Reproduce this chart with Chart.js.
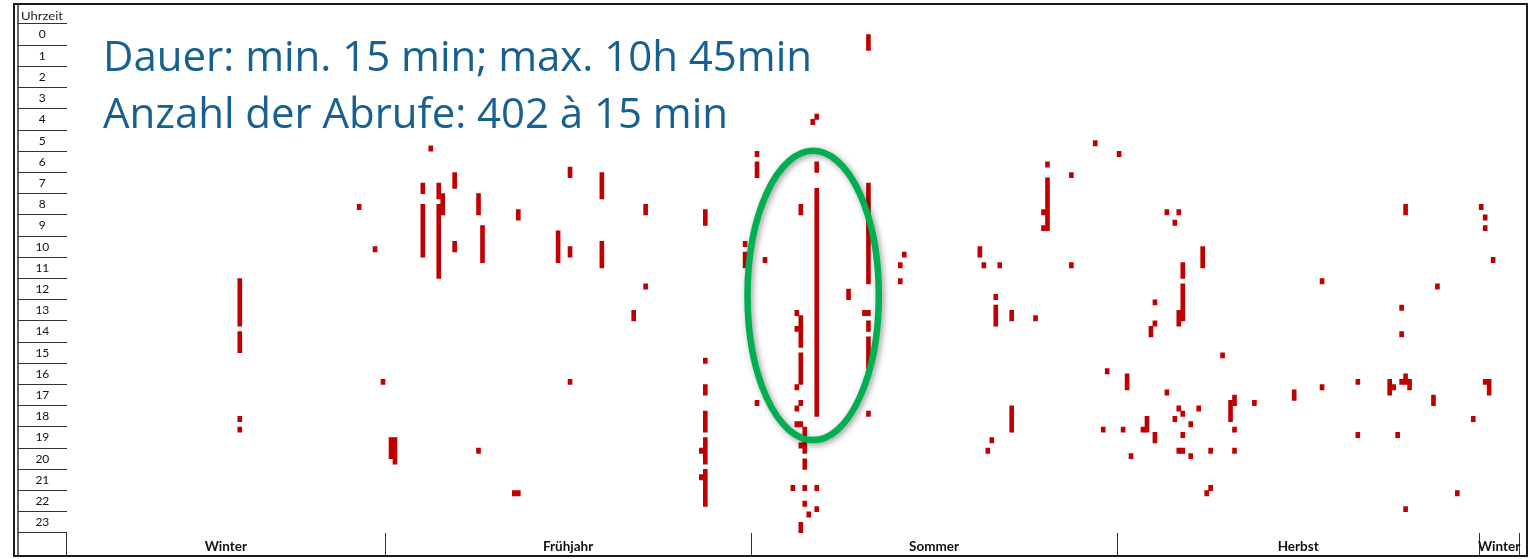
<!DOCTYPE html>
<html>
<head>
<meta charset="utf-8">
<script src="https://cdn.jsdelivr.net/npm/chart.js@4.4.1/dist/chart.umd.min.js"></script>
<style>
html,body{margin:0;padding:0;background:#ffffff;}
#wrap{position:relative;width:1537px;height:559px;overflow:hidden;}
#c{position:absolute;left:0;top:0;}
#ov{position:absolute;left:0;top:0;pointer-events:none;}
</style>
</head>
<body>
<div id="wrap">
<canvas id="c" width="1537" height="559"></canvas>
<svg id="ov" width="1537" height="559" xmlns="http://www.w3.org/2000/svg">
  <text x="42" y="20" text-anchor="middle" font-family="Lato" font-size="11.5" fill="#222" textLength="42" lengthAdjust="spacingAndGlyphs">Uhrzeit</text>
  <text x="103" y="71" font-family="Open Sans" font-size="42" fill="#17608f" textLength="709" lengthAdjust="spacing">Dauer: min. 15 min; max. 10h 45min</text>
  <text x="103" y="128" font-family="Open Sans" font-size="42" fill="#17608f" textLength="625" lengthAdjust="spacing">Anzahl der Abrufe: 402 à 15 min</text>
</svg>
</div>
<script>
// ---- categories / tick labels ----
const dayLabels = Array.from({length: 365}, (_, i) => String(i + 1));
const hourLabels = ['0','1','2','3','4','5','6','7','8','9','10','11','12','13','14','15','16','17','18','19','20','21','22','23'];
const seasonNames = ['Winter', 'Frühjahr', 'Sommer', 'Herbst', 'Winter'];
const seasonBounds = [0, 80, 172, 264, 355, 365];

// ---- events: [day index, from hour, to hour] ----
const winterEvents = [
  [43,12,14.25],[43,14.5,15.5],[43,18.5,18.75],[43,19,19.25],
  [73,8.5,8.75],[77,10.5,10.75],[79,16.75,17],[81,19.5,20.5],[82,19.5,20.75]
];
const springEvents = [
  [89,7.5,8],[89,8.5,11],[91,5.75,6],[93,7.5,8.25],[93,8.5,12],[94,8,9],
  [97,7,7.75],[97,10.25,10.75],[103,8,9],[103,20,20.25],[104,9.5,11.25],
  [112,22,22.25],[113,22,22.25],[113,8.75,9.25],[123,9.75,11.25],
  [126,6.75,7.25],[126,10.5,11],[126,16.75,17],[134,7,8.25],[134,10.25,11.5],
  [142,13.5,14],[145,8.5,9],[145,12.25,12.5],
  [160,8.75,9.5],[160,15.75,16],[160,17,17.5],[160,18.25,19.25],[160,19.5,20.75],[159,20,20.25],[160,21,22.75],[159,21.25,21.5],
  [170,10.25,10.5],[170,10.75,11.5]
];
const summerEvents = [
  [173,6,6.25],[173,6.5,7.25],[173,17.75,18],[175,11,11.25],
  [187,4.5,4.75],[188,4.25,4.5],[188,6.5,7],[188,7.75,18.5],
  [184,8.5,9],[196,12.5,13],
  [201,0.5,1.25],[201,7.5,12.25],[200,13.5,13.75],[201,13.5,13.75],[201,14,14.5],[201,14.75,16.25],[201,18.25,18.5],
  [183,13.5,13.75],[183,14.25,14.5],[184,13.75,15.25],[184,15.5,17],[183,17,17.25],[184,17.75,18],[183,18,18.25],
  [183,18.75,19],[184,18.75,19],[185,19,20.25],[184,19.75,20],[185,20.5,21],
  [182,21.75,22],[185,21.75,22],[188,21.75,22],[185,22.5,22.75],[188,22.75,23],[186,23,23.25],[184,23.5,24],
  [210,10.75,11],[209,11.25,11.5],[209,12,12.25],
  [229,10.5,11],[230,11.25,11.5],[234,11.25,11.5],[233,12.75,13],[233,13.25,14.25],[237,13.5,14],[243,13.75,14],
  [246,6.5,6.75],[246,7.25,9.75],[245,8.75,9],[245,9.5,9.75],[252,7,7.25],[252,11.25,11.5],[258,5.5,5.75],
  [237,18,19.25],[232,19.5,19.75],[231,20,20.25],[261,16.25,16.5],[260,19,19.25]
];
const autumnEvents = [
  [264,6,6.25],[266,16.5,17.25],[265,19,19.25],[267,20.25,20.5],
  [270,19,19.25],[271,18.5,19.25],[276,8.75,9],[279,8.75,9],[278,9.25,9.5],
  [285,10.5,11.5],[280,11.25,12],[280,12.25,14],[279,13.5,14.25],
  [273,13,13.25],[273,14,14.25],[272,14.25,14.75],[315,12,12.25],[290,15.5,15.75],
  [276,17.25,17.5],[279,18,18.25],[280,18.25,18.5],[284,18,18.25],[278,18.5,18.75],[282,18.75,19],
  [273,19.25,19.75],[280,19.25,19.5],[292,17.75,18.75],[293,17.5,18],[293,19,19.25],[293,20,20.25],
  [298,17.75,18],[308,17.25,17.75],[315,17,17.25],[324,16.75,17],[324,19.25,19.5],
  [279,20,20.25],[280,20,20.25],[282,20.25,20.5],[287,20,20.25],[287,21.75,22],[286,22,22.25],
  [336,8.5,9],[344,12.25,12.5],[335,13.25,13.5],[335,14.5,14.75],
  [332,16.75,17.5],[333,17,17.25],[336,16.5,16.75],[335,16.75,17],[336,16.75,17],[337,16.75,17.25],
  [343,17.5,18],[353,18.5,18.75],[334,19.25,19.5],[349,22,22.25],[336,22.75,23]
];
const lateWinterEvents = [
  [355,8.5,8.75],[356,9,9.25],[356,9.5,9.75],[358,11,11.25],[356,16.75,17],[357,16.75,17.5]
];

// ---- highlight ring (data units: day, hour) ----
const ringCenterDay = 187.6, ringHalfDays = 16.5;
const ringCenterHour = 12.8, ringHalfHours = 6.82;

// ---- build layered floating-bar datasets ----
const allEvents = [...winterEvents, ...springEvents, ...summerEvents, ...autumnEvents, ...lateWinterEvents];
const layers = [];
allEvents.forEach(([d, f, t]) => {
  let k = 0;
  while (layers[k] && layers[k][d]) k++;
  if (!layers[k]) layers[k] = new Array(dayLabels.length).fill(null);
  layers[k][d] = [f, t];
});
const datasets = layers.map((data, i) => ({
  label: 'Abruf ' + (i + 1),
  data,
  backgroundColor: '#C00000',
  borderWidth: 0,
  barPercentage: 1,
  categoryPercentage: 1,
  grouped: false
}));

const seasonMids = seasonNames.map((_, i) => (seasonBounds[i] + seasonBounds[i + 1]) / 2);
const xsTickValues = [...seasonBounds, ...seasonMids].sort((a, b) => a - b);

// measure hour label width for centering inside the left column
const yColW = 48.7;
const mctx = document.createElement('canvas').getContext('2d');
mctx.font = 'normal 12px Lato';
const widestHour = Math.max(...hourLabels.map(t => mctx.measureText(t).width));
const yPad = -(yColW / 2) - widestHour / 2;

const framePlugin = {
  id: 'frame',
  afterDraw(chart) {
    const {ctx} = chart;
    const ys = chart.scales.ys, xs = chart.scales.xs;
    ctx.save();
    ctx.strokeStyle = '#1a1a1a';
    ctx.lineWidth = 2;
    ctx.strokeRect(ys.left - 4, 4, (xs.right + 8) - (ys.left - 4), xs.bottom - 4);
    ctx.lineWidth = 1.5;
    ctx.strokeStyle = '#333';
    ctx.beginPath();
    ctx.moveTo(ys.left, 4);
    ctx.lineTo(ys.left, xs.bottom);
    ctx.stroke();
    ctx.restore();
  }
};

const ringPlugin = {
  id: 'ring',
  afterDatasetsDraw(chart) {
    const {ctx} = chart;
    const xs = chart.scales.xs, y = chart.scales.y;
    const cx = xs.getPixelForValue(ringCenterDay);
    const cy = y.getPixelForValue(ringCenterHour);
    const rx = Math.abs(xs.getPixelForValue(ringCenterDay + ringHalfDays) - cx);
    const ry = Math.abs(y.getPixelForValue(ringCenterHour + ringHalfHours) - cy);
    ctx.save();
    ctx.shadowColor = 'rgba(0,0,0,0.4)';
    ctx.shadowBlur = 6;
    ctx.shadowOffsetX = 2;
    ctx.shadowOffsetY = 2;
    ctx.strokeStyle = '#00B050';
    ctx.lineWidth = 6.5;
    ctx.beginPath();
    ctx.ellipse(cx, cy, rx, ry, 0, 0, Math.PI * 2);
    ctx.stroke();
    ctx.restore();
  }
};

new Chart(document.getElementById('c'), {
  type: 'bar',
  data: { labels: dayLabels, datasets },
  options: {
    responsive: false,
    animation: false,
    layout: { padding: { left: 18, right: 18, top: 24, bottom: 3 } },
    plugins: { legend: { display: false }, tooltip: { enabled: false } },
    scales: {
      x: { type: 'category', axis: 'x', display: false, offset: true },
      y: { type: 'linear', axis: 'y', display: false, min: 0, max: 24, reverse: true, beginAtZero: false },
      ys: {
        type: 'category', axis: 'y', position: 'left', labels: hourLabels, offset: true,
        afterFit: s => { s.width = yColW; },
        grid: { offset: true, drawOnChartArea: false, drawTicks: true, tickLength: yColW, color: '#333', lineWidth: 1 },
        border: { display: false },
        ticks: { autoSkip: false, crossAlign: 'center', padding: yPad, color: '#111', font: { family: 'Lato', size: 12 } }
      },
      xs: {
        type: 'linear', axis: 'x', position: 'bottom', min: 0, max: 365, offset: false,
        afterBuildTicks: s => { s.ticks = xsTickValues.map(v => ({ value: v })); },
        afterFit: s => { s.height = 23; },
        grid: {
          offset: false, drawOnChartArea: false, drawTicks: true, tickLength: 23, lineWidth: 1,
          color: ctx => (ctx.tick && seasonBounds.includes(ctx.tick.value)) ? '#333' : 'rgba(0,0,0,0)'
        },
        border: { display: false },
        ticks: {
          autoSkip: false, maxRotation: 0, minRotation: 0, padding: -17, color: '#111',
          font: { family: 'Lato', size: 13.5, weight: 'bold' },
          callback: v => { const i = seasonMids.indexOf(v); return i >= 0 ? seasonNames[i] : ''; }
        }
      }
    }
  },
  plugins: [ringPlugin, framePlugin]
});
</script>
</body>
</html>
